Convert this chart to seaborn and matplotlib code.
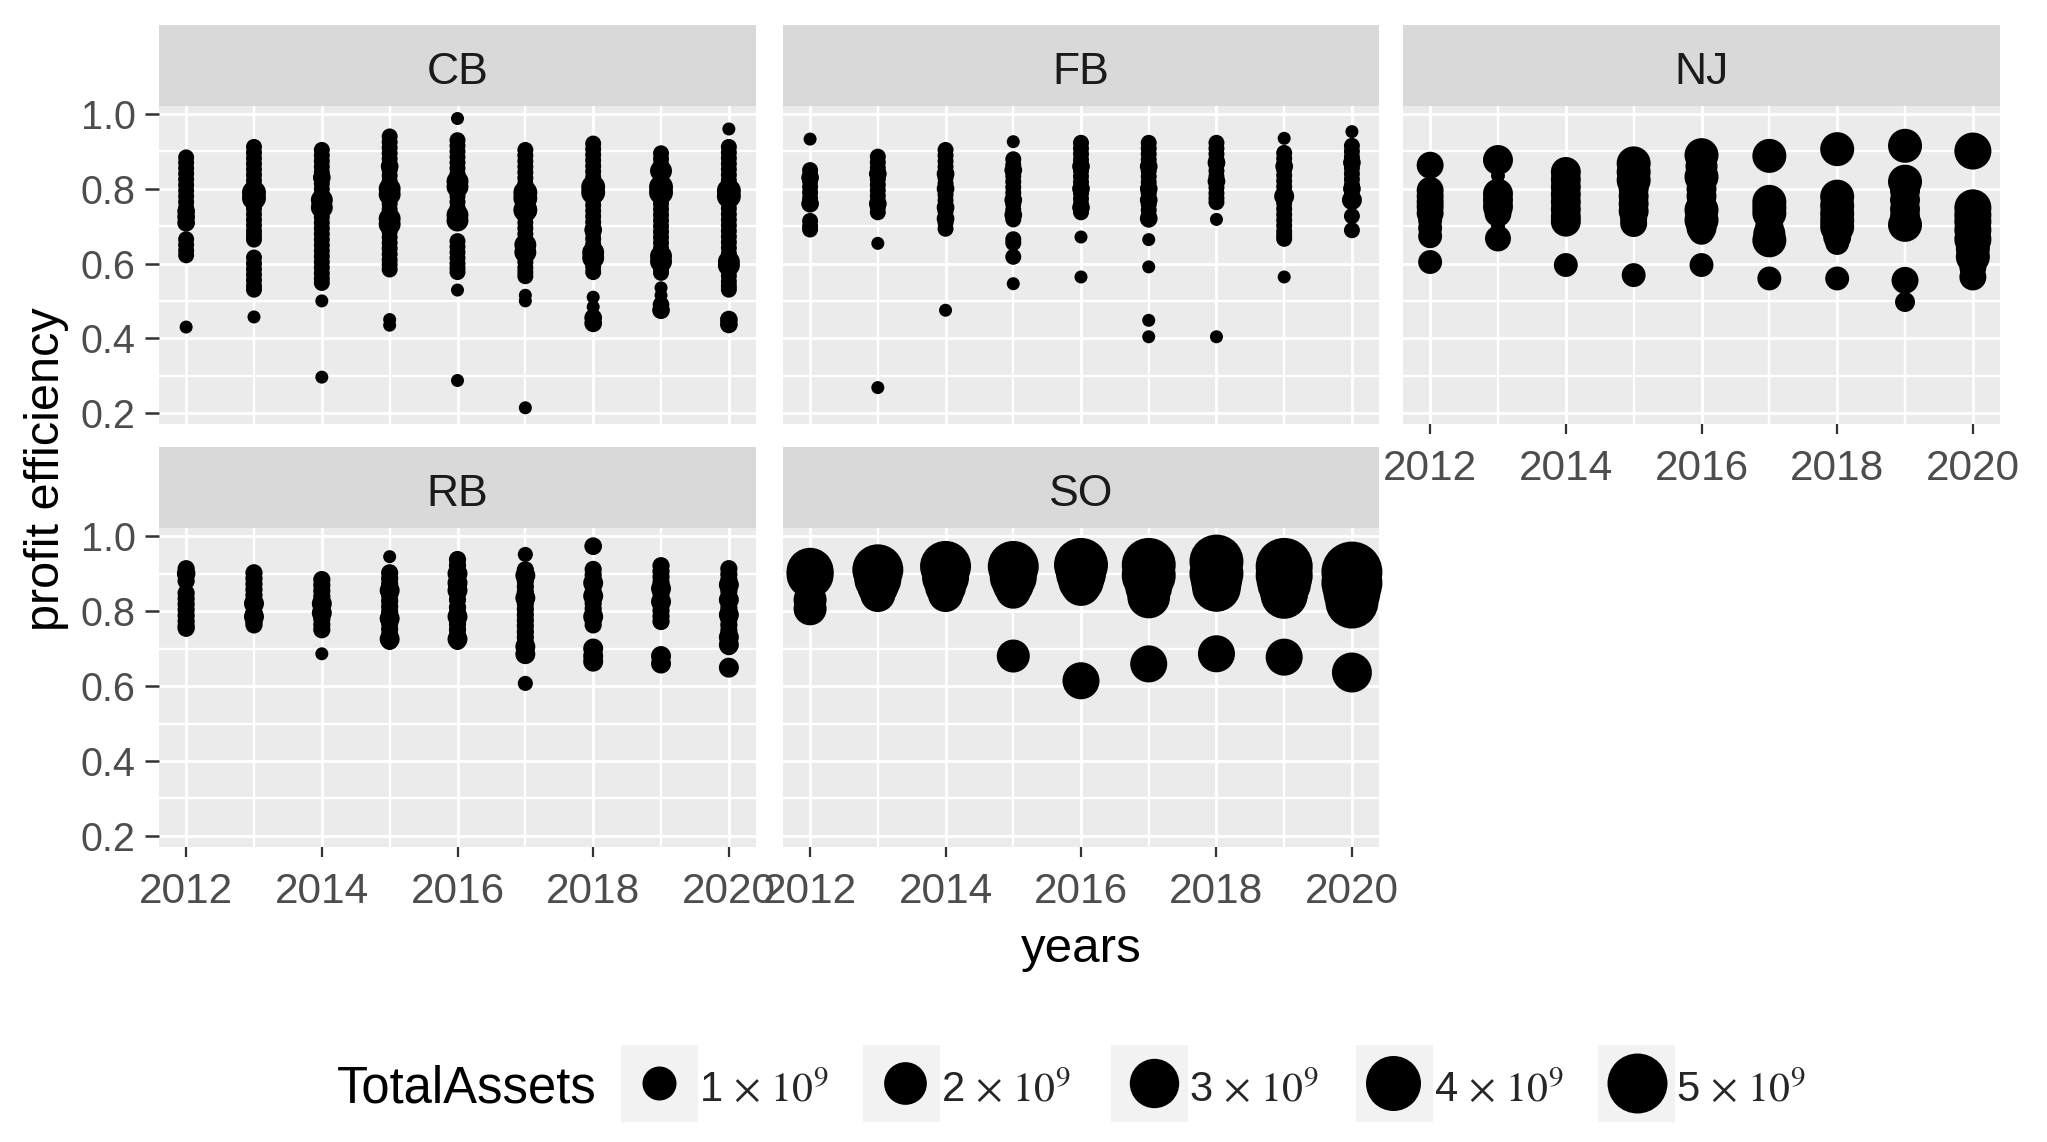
import matplotlib
matplotlib.use("Agg")
import matplotlib.pyplot as plt
from matplotlib.patches import Rectangle
import numpy as np
import pandas as pd
import seaborn as sns

# -- Data -----------------------------------------------------
# *_PE = the banks that sit in the solid columns (small assets, BASE_TA)
# *_BIG_PE / *_BIG_TA = the wider bumps and the lone points
YEARS = [2012, 2013, 2014, 2015, 2016, 2017, 2018, 2019, 2020]
BANK_TYPES = ["CB", "FB", "NJ", "RB", "SO"]
X_TICKS = [2012, 2014, 2016, 2018, 2020]
Y_TICKS = [0.2, 0.4, 0.6, 0.8, 1.0]
LEGEND_LEVELS = [1, 2, 3, 4, 5]
BASE_TA = {"CB": .02, "FB": .02, "NJ": .27, "RB": .04, "SO": 1.0}

CB_PE = [
    [.884, .87, .855, .84, .825, .81, .795, .78, .765, .75, .735, .72, .709, .665, .65, .635, .622],
    [.912, .897, .882, .867, .852, .837, .822, .807, .792, .777, .762, .747, .732, .717, .702, .687, .675, .664,
     .616, .60, .585, .57, .555, .54, .53],
    [.904, .889, .874, .859, .844, .829, .814, .799, .784, .769, .754, .739, .724, .709, .694, .679, .664, .649,
     .634, .619, .604, .589, .574, .56, .548],
    [.94, .925, .91, .895, .88, .865, .85, .835, .82, .805, .79, .775, .76, .745, .73, .715, .70, .685, .67, .655,
     .64, .625, .61, .597, .584],
    [.93, .915, .90, .885, .87, .855, .84, .825, .81, .795, .78, .765, .75, .735, .72, .709,
     .66, .645, .63, .615, .60, .588, .577],
    [.904, .889, .874, .859, .844, .829, .814, .799, .784, .769, .754, .739, .724, .709, .694, .679, .664, .649,
     .634, .619, .604, .589, .577, .566],
    [.921, .906, .891, .876, .861, .846, .831, .816, .801, .786, .771, .756, .741, .726, .711, .696, .681, .666,
     .651, .636, .621, .606, .591, .577],
    [.895, .88, .865, .85, .835, .82, .805, .79, .775, .76, .745, .73, .715, .70, .685, .67, .655, .64, .625, .61,
     .595, .585, .575],
    [.912, .897, .882, .867, .852, .837, .822, .807, .792, .777, .762, .747, .732, .717, .702, .687, .672, .657,
     .642, .627, .612, .597, .582, .567, .552, .54, .53],
]
CB_BIG_PE = [
    [.43, .74, .725, .709],
    [.457, .79, .775],
    [.296, .50, .77, .75, .83],
    [.45, .435, .80, .785, .72, .705, .86],
    [.988, .287, .529, .82, .805, .73, .715],
    [.515, .50, .214, .79, .775, .743, .65, .63],
    [.51, .484, .455, .44, .805, .79, .63, .615, .69],
    [.535, .515, .49, .475, .848, .805, .79, .62, .605],
    [.96, .45, .437, .795, .78, .605, .595],
]
CB_BIG_TA = [
    [.0, .05, .05, .05],
    [.0, .27, .27],
    [.0, .0, .18, .18, .05],
    [.0, .0, .18, .18, .18, .18, .05],
    [.0, .0, .0, .18, .18, .18, .18],
    [.0, .0, .0, .27, .27, .27, .18, .18],
    [.0, .0, .05, .05, .27, .27, .18, .18, .05],
    [.0, .0, .03, .05, .18, .27, .27, .18, .18],
    [.0, .05, .05, .27, .27, .18, .18],
]

FB_PE = [
    [.85, .835, .82, .805, .79, .775, .763, .714, .70, .691],
    [.886, .871, .856, .841, .826, .811, .796, .781, .766, .751, .737],
    [.904, .889, .874, .859, .844, .829, .814, .799, .784, .769, .754, .739, .724, .709, .693],
    [.879, .864, .849, .834, .819, .804, .789, .774, .759, .744, .729, .718, .665, .655, .618],
    [.923, .908, .893, .878, .863, .848, .833, .818, .803, .788, .773, .758, .747, .737],
    [.923, .908, .893, .878, .863, .848, .833, .818, .803, .788, .773, .758, .743, .728, .718],
    [.923, .908, .893, .878, .863, .848, .833, .818, .803, .788, .775, .764],
    [.896, .881, .866, .851, .836, .821, .806, .791, .776, .761, .746, .731, .716, .701, .686, .675, .666],
    [.915, .90, .885, .87, .855, .84, .825, .81, .795, .78, .77, .727, .689],
]
FB_BIG_PE = [
    [.933, .83, .76],
    [.654, .268, .84, .76],
    [.475, .84, .80, .75, .72],
    [.926, .546, .85, .77, .73],
    [.671, .564, .86, .80, .75],
    [.664, .591, .448, .404, .86, .80, .77, .72],
    [.718, .404, .87, .82],
    [.935, .564, .86, .78],
    [.953, .87, .80, .77],
]
FB_BIG_TA = [
    [.0, .05, .05],
    [.0, .0, .05, .05],
    [.0, .05, .05, .05, .05],
    [.0, .0, .05, .05, .05],
    [.0, .0, .05, .05, .05],
    [.0, .0, .0, .0, .05, .05, .05, .05],
    [.0, .0, .05, .05],
    [.0, .0, .05, .11],
    [.0, .05, .05, .11],
]

NJ_PE = [[.673, .695, .716, .604], [], [.596], [.569], [.596], [.56], [.655, .56], [], []]
NJ_BIG_PE = [
    [.863, .796, .78, .765, .752, .735],
    [.877, .835, .787, .77, .752, .734, .70, .667],
    [.845, .825, .805, .785, .765, .745, .725, .712],
    [.868, .845, .823, .80, .78, .76, .74, .72, .707],
    [.89, .86, .832, .80, .78, .743, .716, .695, .685],
    [.888, .765, .75, .735, .70, .68, .662],
    [.906, .779, .755, .734, .715, .698, .671],
    [.915, .819, .795, .77, .745, .725, .7035, .555, .497],
    [.901, .749, .73, .712, .69, .665, .64, .618, .59, .564],
]
NJ_BIG_TA = [
    [.44, .44, .44, .44, .44, .44],
    [.65, .002, .65, .65, .65, .44, .002, .38],
    [.65, .65, .65, .65, .65, .65, .65, .65],
    [1.0, 1.0, 1.0, .65, .65, .65, .65, .44, .44],
    [1.0, .82, 1.0, .65, .65, 1.0, 1.0, .65, .38],
    [1.0, 1.0, 1.0, 1.0, .51, .82, 1.0],
    [1.0, 1.0, 1.0, 1.0, 1.0, 1.0, .51],
    [1.0, 1.0, .65, .65, .65, .65, 1.0, .44, .11],
    [1.31, 1.31, 1.31, 1.31, 1.31, 1.31, 1.0, 1.0, .44, .44],
]

RB_PE = [
    [.913, .895, .88, .848, .833, .818, .803, .788, .773, .76, .754],
    [.902, .887, .872, .857, .842, .827, .812, .797, .782, .77, .763],
    [.884, .869, .854, .839, .824, .809, .794, .779, .764, .75],
    [.902, .887, .872, .857, .842, .827, .812, .797, .782, .767, .752, .737, .725, .719],
    [.9375, .922, .907, .892, .877, .862, .847, .83, .81, .795, .78, .765, .75, .735, .719],
    [.91, .895, .88, .865, .85, .835, .82, .805, .79, .775, .76, .745, .73, .715, .70, .683],
    [.911, .896, .881, .866, .851, .836, .821, .806, .791, .776, .763, .701, .685, .67],
    [.921, .906, .891, .876, .861, .846, .831, .816, .801, .786, .772, .68, .67, .66],
    [.913, .898, .883, .868, .853, .838, .823, .808, .793, .778, .763, .748, .733, .718, .705, .649],
]
RB_BIG_PE = [
    [.90],
    [.82, .785],
    [.686, .82, .795],
    [.945, .855, .78, .725],
    [.90, .875, .855, .785, .725],
    [.951, .607, .895, .835, .705, .685],
    [.973, .875, .84, .785, .70, .68, .665],
    [.86, .825, .68, .66],
    [.87, .83, .79, .73, .71, .649],
]
RB_BIG_TA = [
    [.07],
    [.11, .11],
    [.0, .11, .11],
    [.0, .11, .11, .11],
    [.11, .11, .11, .11, .11],
    [.01, .01, .11, .11, .11, .11],
    [.05, .11, .11, .11, .11, .11, .11],
    [.11, .11, .11, .11],
    [.11, .11, .11, .11, .11, .11],
]

SO_PE = [[], [], [], [], [], [], [], [], []]
SO_BIG_PE = [
    [.906, .897, .83, .806],
    [.91, .885, .865, .844],
    [.919, .89, .865, .844],
    [.919, .89, .87, .853, .68],
    [.923, .90, .88, .867, .614],
    [.923, .895, .865, .8375, .659],
    [.932, .90, .88, .863, .686],
    [.919, .895, .875, .855, .842, .677],
    [.904, .875, .85, .824, .636],
]
SO_BIG_TA = [
    [2.62, 2.62, .91, .91],
    [3.27, 2.62, 1.78, 1.1],
    [3.27, 2.62, 1.78, 1.1],
    [3.27, 2.62, 1.78, 1.1, .91],
    [3.8, 3.1, 2.4, 1.65, 1.31],
    [3.8, 3.8, 2.62, 2.0, 1.31],
    [3.8, 3.8, 3.27, 2.9, 1.31],
    [4.39, 4.39, 3.8, 2.9, 2.62, 1.31],
    [5.22, 5.22, 4.39, 3.63, 1.65],
]

PE_BY_TYPE = dict(zip(BANK_TYPES, [CB_PE, FB_PE, NJ_PE, RB_PE, SO_PE]))
BIG_PE_BY_TYPE = dict(zip(BANK_TYPES, [CB_BIG_PE, FB_BIG_PE, NJ_BIG_PE, RB_BIG_PE, SO_BIG_PE]))
BIG_TA_BY_TYPE = dict(zip(BANK_TYPES, [CB_BIG_TA, FB_BIG_TA, NJ_BIG_TA, RB_BIG_TA, SO_BIG_TA]))

rows = []
for bank in BANK_TYPES:
    for i, yr in enumerate(YEARS):
        for pe in PE_BY_TYPE[bank][i]:
            rows.append({"type": bank, "years": yr, "pe": pe, "assets": BASE_TA[bank]})
        for pe, ta in zip(BIG_PE_BY_TYPE[bank][i], BIG_TA_BY_TYPE[bank][i], strict=True):
            rows.append({"type": bank, "years": yr, "pe": pe, "assets": ta})
df = pd.DataFrame(rows)

# -- Config ---------------------------------------------------
W, H, DPI = 2047, 1142, 100


def dot_area(ta):
    # ggplot scale_size look: diameter grows with sqrt of assets
    d_px = 13 + 21 * np.sqrt(ta)
    return (d_px * 72 / DPI) ** 2


size_map = {v: dot_area(v) for v in df["assets"].unique()}

sns.set_theme(style="darkgrid", rc={
    "axes.facecolor": "#EBEBEB",
    "grid.color": "white",
    "mathtext.fontset": "stix",
})
plt.rcParams["font.family"] = ["Liberation Sans", "DejaVu Sans"]

g = sns.FacetGrid(df, col="type", col_order=BANK_TYPES, col_wrap=3,
                  sharex=True, sharey=True, despine=False)
g.map_dataframe(sns.scatterplot, x="years", y="pe", size="assets", sizes=size_map,
                color="black", linewidth=0, legend=False, clip_on=False, zorder=3)
fig = g.figure
fig.set_size_inches(W / DPI, H / DPI)
fig.set_dpi(DPI)
g.set_titles("")
g.set_axis_labels("", "")

# panel boxes in pixels: left, right, top, bottom
PANELS = {
    "CB": (159, 756, 106, 424),
    "FB": (783, 1379, 106, 424),
    "NJ": (1403, 2000, 106, 424),
    "RB": (159, 756, 528, 847),
    "SO": (783, 1379, 528, 847),
}

ov = fig.add_axes([0, 0, 1, 1], facecolor="none")
ov.set_xlim(0, W)
ov.set_ylim(H, 0)
ov.axis("off")

for bank, ax in g.axes_dict.items():
    l, r, t, b = PANELS[bank]
    ax.set_position([l / W, 1 - b / H, (r - l) / W, (b - t) / H])
    ax.set_xlim(2011.6, 2020.4)
    ax.set_ylim(0.1706, 1.0215)
    ax.set_xticks(X_TICKS)
    ax.set_xticks([2013, 2015, 2017, 2019], minor=True)
    ax.set_yticks(Y_TICKS)
    ax.set_yticks([0.3, 0.5, 0.7, 0.9], minor=True)
    ax.grid(which="major", color="white", linewidth=2.1)
    ax.grid(which="minor", color="white", linewidth=1.7)
    ax.set_axisbelow(True)
    for sp in ax.spines.values():
        sp.set_visible(False)
    show_x = bank in ("NJ", "RB", "SO")
    show_y = bank in ("CB", "RB")
    ax.tick_params(axis="x", which="major", bottom=show_x, labelbottom=show_x, length=7.2,
                   width=1.6, color="#333333", labelsize=30.5, labelcolor="#4D4D4D", pad=10.5)
    ax.tick_params(axis="y", which="major", left=show_y, labelleft=show_y, length=10,
                   width=1.8, color="#333333", labelsize=28.5, labelcolor="#4D4D4D", pad=7)
    ax.tick_params(which="minor", bottom=False, left=False)
    ax.yaxis.set_major_formatter(lambda v, _: f"{v:.1f}")
    ax.xaxis.set_major_formatter(lambda v, _: f"{v:.0f}")
    # strip on top of the panel
    ov.add_patch(Rectangle((l, t - 81), r - l, 81, facecolor="#D9D9D9", edgecolor="none"))
    ov.text((l + r) / 2, t - 33, bank, ha="center", va="center", fontsize=32, color="#1A1A1A")

ov.text(47, 469, "profit efficiency", rotation=90, ha="center", va="center", fontsize=35, color="black")
ov.text(1081, 950, "years", ha="center", va="center", fontsize=35.5, color="black")
ov.text(337, 1089, "TotalAssets", ha="left", va="center", fontsize=36.5, color="black")

# -- Legend ---------------------------------------------------
key_left = [621, 863, 1111, 1356, 1598]
dot_x = [659, 905, 1154, 1393, 1637]
for lvl, kx, dx in zip(LEGEND_LEVELS, key_left, dot_x):
    ov.add_patch(Rectangle((kx, 1045), 77, 77, facecolor="#F2F2F2", edgecolor="none"))
    ov.scatter([dx], [1083], s=dot_area(lvl), color="black", linewidth=0, zorder=3)
    ov.text(kx + 78, 1090, rf"$\mathregular{{{lvl}}}\,\times\,10^{{9}}$", ha="left", va="center",
            fontsize=30, color="#262626")

fig.savefig("out.png", dpi=DPI, facecolor="white")
plt.close(fig)
